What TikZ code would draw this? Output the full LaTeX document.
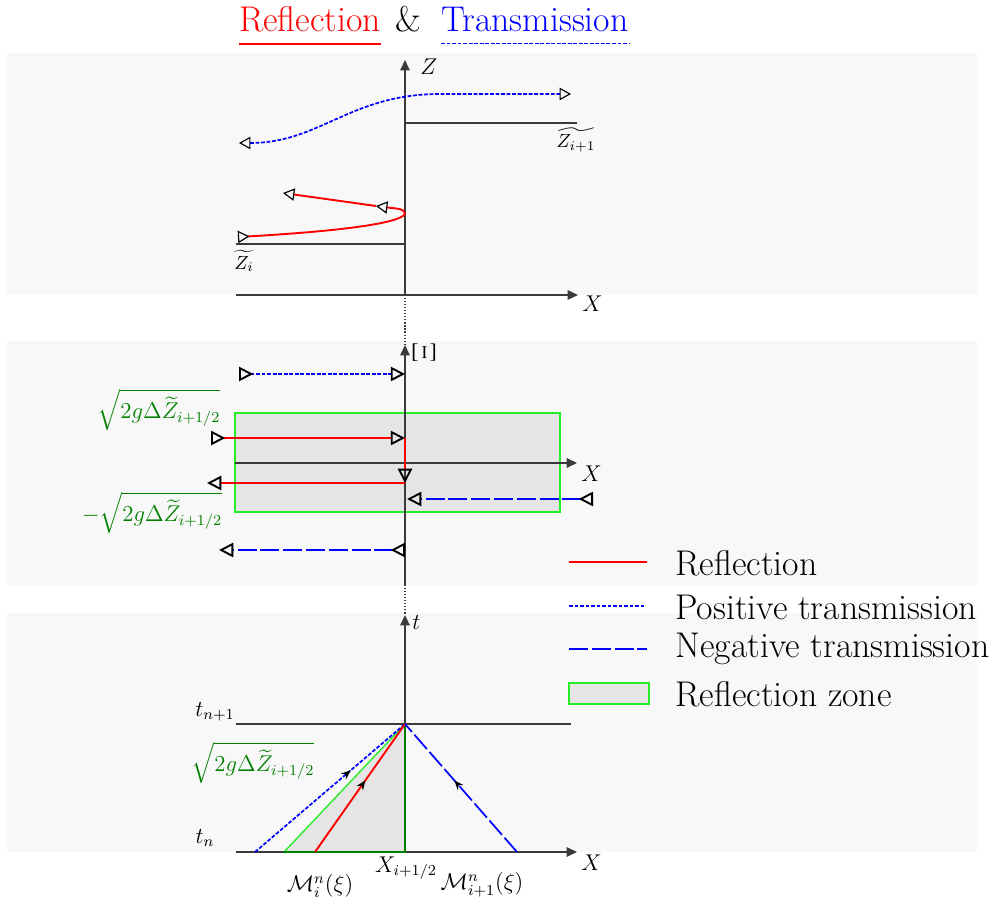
\documentclass[tikz,border=0pt]{standalone}
\usepackage{amsmath,amssymb}
\usepackage{tikz}
\usepackage{xcolor}
\usetikzlibrary{arrows.meta,positioning,calc,decorations.markings}
\definecolor{panelbg}{HTML}{F8F8F8}
\definecolor{zonefill}{HTML}{E5E5E5}
\definecolor{zonegreen}{HTML}{22EE22}
\definecolor{labgreen}{HTML}{008000}
\definecolor{axisgray}{HTML}{3A3A3A}
\newcommand{\bigfont}{\fontsize{18.8}{22}\selectfont}
\tikzset{
  otri/.tip={Triangle[open,color=black,length=6pt,width=6.5pt,line width=0.6pt]},
  otrirev/.tip={Triangle[open,reversed,color=black,length=6pt,width=6.5pt,line width=0.6pt]},
  btri/.tip={Triangle[open,color=black,length=7.5pt,width=7.5pt,line width=1pt]},
  btrirev/.tip={Triangle[open,reversed,color=black,length=7.5pt,width=7.5pt,line width=1pt]},
  panel/.style={fill=panelbg, draw=none},
  axis/.style={draw=axisgray, line width=0.8pt, -{Triangle[length=5.5pt,width=5pt]}},
  level/.style={draw=axisgray, line width=0.6pt},
  link/.style={draw=axisgray, line width=0.6pt, densely dotted},
  refl/.style={draw=red, line width=1pt},
  postr/.style={draw=blue, line width=0.9pt, dash pattern=on 2pt off 0.9pt},
  negtr/.style={draw=blue, line width=0.9pt, dash pattern=on 10pt off 2pt},
  zone/.style={fill=zonefill, draw=zonegreen, line width=0.6pt},
  flow/.style={postaction={decorate},
    decoration={markings, mark=at position #1 with {\arrow{Stealth[length=5pt,width=4pt,color=black]}}}},
  lbl/.style={font=\large, inner sep=1pt},
  tlbl/.style={font=\normalsize, inner sep=1pt},
  glbl/.style={font=\large, text=labgreen, inner sep=1pt},
  ttl/.style={font=\bigfont, anchor=base, inner xsep=0pt, inner ysep=5.8pt},
  legtxt/.style={font=\bigfont, anchor=west, inner sep=0pt}
}

\begin{document}
\begin{tikzpicture}[x=0.0185cm,y=-0.0185cm]
    \useasboundingbox (0,0) rectangle (994,902);

    % Panels
    \fill[panel] (7,53) rectangle (977,295);
    \fill[panel] (7,341) rectangle (977,585);
    \fill[panel] (7,613) rectangle (977,852);

    % Title
    \node[ttl, text=red] (ttlRefl) at (310,32) {Reflection};
    \node[ttl, inner ysep=0pt] (ttlAmp) at (408,32) {\&};
    \node[ttl, text=blue] (ttlTrans) at (535,32) {Transmission};
    \draw[refl] (ttlRefl.south west) -- (ttlRefl.south east);
    \draw[postr, line width=0.7pt] (ttlTrans.south west) -- (ttlTrans.south east);

    % Physical plane (X,Z)
    \coordinate (zO) at (405,295);
    \coordinate (zTop) at (405,60);
    \coordinate (zXl) at (236,295);
    \coordinate (zXr) at (578,295);
    \draw[axis] (zXl) -- (zXr);
    \draw[axis] (zO) -- (zTop);
    \node[lbl, anchor=west] (zName) at (418,67) {$Z$};
    \node[lbl, anchor=west] (zXName) at (580,304) {$X$};
    \draw[level] (405,123) -- (577,123);
    \draw[level] (236,244) -- (405,244);
    \node[tlbl] (zRight) at (576,140) {$\widetilde{Z_{i+1}}$};
    \node[tlbl] (zLeft) at (244,261) {$\widetilde{Z_i}$};
    \draw[postr, {otri}-{otri}] (239,143) .. controls (320,143) and (350,94) .. (440,94) -- (571,94);
    \draw[refl, {otrirev}-{otri}] (238,237) .. controls (360,230) and (405,221) .. (405,213)
      .. controls (404,208.5) and (395,208.5) .. (376,206);
    \draw[refl, -{otri}] (376,206) -- (283,193);

    % Phase plane (X,Xi)
    \coordinate (xiO) at (405,585);
    \coordinate (xiTop) at (405,345);
    \coordinate (xiXl) at (235,463);
    \coordinate (xiXr) at (577,463);
    \draw[zone] (235,413) rectangle (560,512);
    \draw[axis] (xiO) -- (xiTop);
    \draw[axis] (xiXl) -- (xiXr);
    \draw[link] (zO) -- (xiTop);
    \node[font=\LARGE, inner sep=1pt, rotate=-90] (xiName) at (424,353) {$\Xi$};
    \node[lbl, anchor=north west] (xiXName) at (579,464) {$X$};
    \node[glbl] (sqPlus) at (159,410) {$\sqrt{2g\Delta\widetilde{Z}_{i+1/2}}$};
    \node[glbl] (sqMinus) at (152,513) {$-\sqrt{2g\Delta\widetilde{Z}_{i+1/2}}$};
    \draw[postr, {btrirev}-{btri}] (239,374) -- (405,374);
    \draw[refl, {btrirev}-{btri}] (211,438) -- (405,438);
    \draw[refl, -{btri}] (405,438) -- (405,483);
    \draw[refl, -{btri}] (405,483) -- (207,483);
    \draw[negtr, {btrirev}-{btri}] (593,499) -- (407,499);
    \draw[negtr, {btrirev}-{btri}] (405,550) -- (219,550);

    % Time plane (X,t)
    \coordinate (tO) at (405,852);
    \coordinate (tTop) at (405,615);
    \coordinate (tXl) at (236,852);
    \coordinate (tXr) at (577,852);
    \coordinate (apex) at (405,724);
    \fill[zonefill] (284,852) -- (apex) -- (tO) -- cycle;
    \draw[axis] (tO) -- (tTop);
    \draw[axis] (tXl) -- (tXr);
    \draw[link] (xiO) -- (tTop);
    \draw[level] (236,724) -- (571,724);
    \draw[draw=zonegreen, line width=0.7pt] (284,852) -- (apex);
    \draw[draw=labgreen, line width=0.8pt] (284,852) -- (tO) -- (apex);
    \draw[postr, flow=0.64] (255,852) -- (apex);
    \draw[refl, flow=0.56] (315,852) -- (apex);
    \draw[negtr, flow=0.56] (517,852) -- (apex);
    \node[lbl, anchor=west] (tName) at (410,622) {$t$};
    \node[lbl, anchor=north west] (tXName) at (579,853) {$X$};
    \node[lbl] (tNext) at (215,712) {$t_{n+1}$};
    \node[lbl] (tNow) at (205,838) {$t_n$};
    \node[glbl] (sqSlope) at (253,763) {$\sqrt{2g\Delta\widetilde{Z}_{i+1/2}}$};
    \node[lbl] (xHalf) at (406,868) {$X_{i+1/2}$};
    \node[lbl] (mLeft) at (320,886) {$\mathcal{M}_i^n(\xi)$};
    \node[lbl] (mRight) at (482,885) {$\mathcal{M}_{i+1}^n(\xi)$};

    % Legend
    \draw[refl] (569,562) -- (647,562);
    \node[legtxt] (legRefl) at (675,563) {Reflection};
    \draw[postr] (569,606) -- (645,606);
    \node[legtxt] (legPos) at (675,607) {Positive transmission};
    \draw[negtr] (569,649) -- (647,649);
    \node[legtxt] (legNeg) at (675,649) {Negative transmission};
    \draw[zone] (569,683) rectangle (649,704);
    \node[legtxt] (legZone) at (675,694) {Reflection zone};
  \end{tikzpicture}
\end{document}
